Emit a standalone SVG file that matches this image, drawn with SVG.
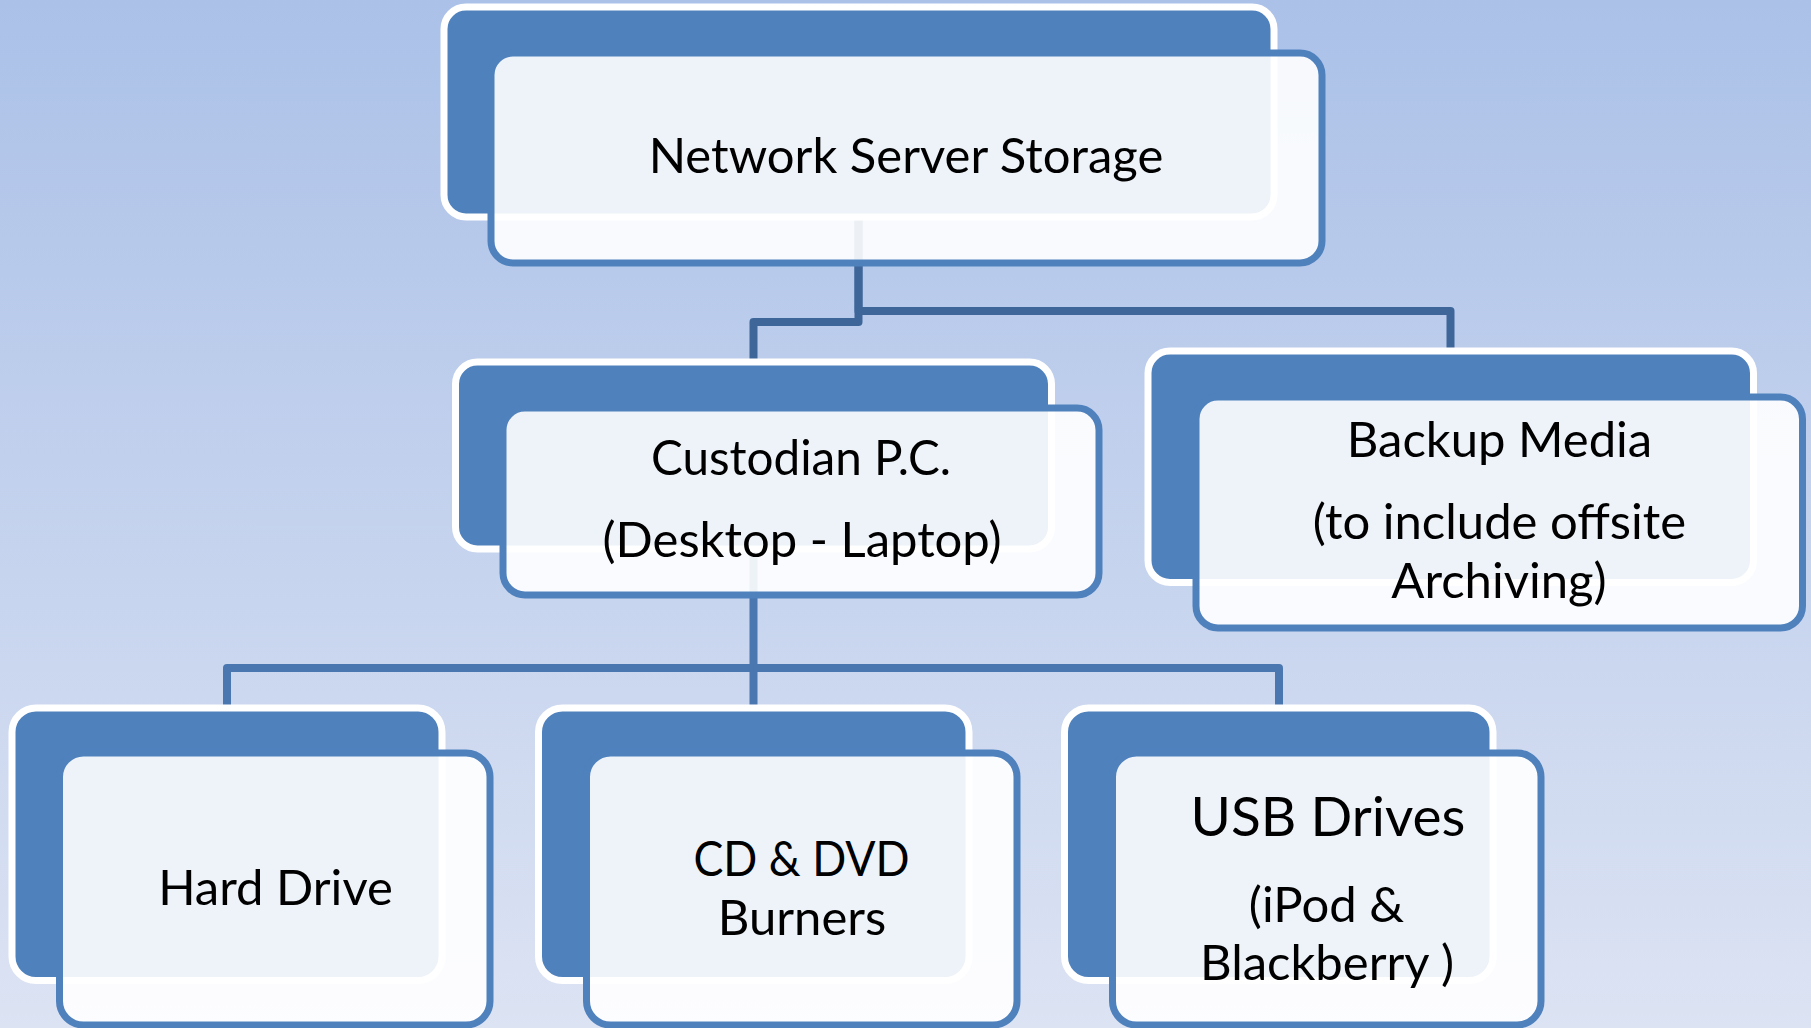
<svg xmlns="http://www.w3.org/2000/svg" width="1811" height="1028" viewBox="0 0 1811 1028">
<defs>
<linearGradient id="bg" x1="0" y1="0" x2="0" y2="1">
<stop offset="0" stop-color="#ABC1E8"/>
<stop offset="1" stop-color="#DCE3F3"/>
</linearGradient>
</defs>
<style>
.back{fill:#4F81BD;stroke:#FFFFFF;stroke-width:7}
.front{fill:#FFFFFF;fill-opacity:0.9;stroke:#4F81BD;stroke-width:7}
.conn{fill:none;stroke-width:8;stroke-linejoin:round}
.c1{stroke:#3E6699}
.c2{stroke:#4A77AF}
text{font-family:Lato,"Open Sans","Liberation Sans",sans-serif;font-size:49px;fill:#000000;text-anchor:middle}
.big{font-size:55px}
</style>
<rect x="0" y="0" width="1811" height="1028" fill="url(#bg)"/>
<g id="connectors">
<path class="conn c1" d="M858.5 217 V322 H753.5 V362"/>
<path class="conn c1" d="M858.5 217 V311 H1450.5 V351"/>
<path class="conn c2" d="M753.5 549 V668 H227 V708"/>
<path class="conn c2" d="M753.5 668 V708"/>
<path class="conn c2" d="M753.5 668 H1279 V708"/>
</g>
<g id="node-network">
<rect class="back" x="444" y="7" width="830" height="210" rx="22"/>
<rect class="front" x="491" y="53" width="831" height="210" rx="22"/>
<text x="906" y="173">Network Server Storage</text>
</g>
<g id="node-custodian">
<rect class="back" x="455.5" y="362" width="596" height="187" rx="22"/>
<rect class="front" x="503" y="408" width="596" height="187" rx="22"/>
<text x="801" y="475" textLength="300" lengthAdjust="spacingAndGlyphs">Custodian P.C.</text>
<text x="802" y="557">(Desktop - Laptop)</text>
</g>
<g id="node-backup">
<rect class="back" x="1148" y="351" width="605.5" height="231.5" rx="22"/>
<rect class="front" x="1196" y="397" width="606.5" height="231" rx="22"/>
<text x="1499.5" y="457">Backup Media</text>
<text x="1499.5" y="539">(to include offsite</text>
<text x="1499" y="598">Archiving)</text>
</g>
<g id="node-harddrive">
<rect class="back" x="12" y="708" width="430" height="272.5" rx="24"/>
<rect class="front" x="59.5" y="753" width="430.5" height="272" rx="24"/>
<text x="275.5" y="905">Hard Drive</text>
</g>
<g id="node-cddvd">
<rect class="back" x="538.5" y="708" width="430.5" height="272.5" rx="24"/>
<rect class="front" x="586.5" y="753" width="430.5" height="272" rx="24"/>
<text x="801.5" y="876" textLength="216" lengthAdjust="spacingAndGlyphs">CD &amp; DVD</text>
<text x="802" y="935">Burners</text>
</g>
<g id="node-usb">
<rect class="back" x="1064.5" y="708" width="428.5" height="272.5" rx="24"/>
<rect class="front" x="1112.5" y="753" width="428.5" height="272" rx="24"/>
<text class="big" x="1328" y="836">USB Drives</text>
<text x="1326.5" y="922">(iPod &amp;</text>
<text x="1327" y="980">Blackberry )</text>
</g>
</svg>
